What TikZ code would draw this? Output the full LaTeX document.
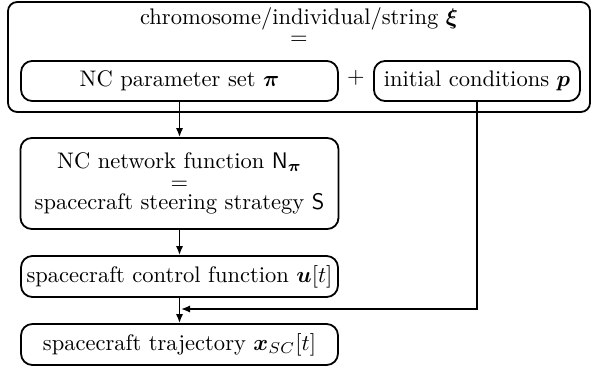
\documentclass[tikz,border=0pt]{standalone}
\usepackage{amsmath}
\usepackage{bm}
\usetikzlibrary{arrows.meta}

\tikzset{
  box/.style={draw, line width=0.8pt, rounded corners=5pt, inner sep=1pt,
    align=center, font=\fontsize{10}{9.2}\selectfont},
  frame/.style={draw, line width=0.8pt, rounded corners=4pt},
  link/.style={line width=0.7pt, -{Latex[length=4pt,width=3.2pt]}},
}

\begin{document}
\begin{tikzpicture}[x=0.444pt, y=-0.444pt]
  \useasboundingbox (0,0) rectangle (594,368);

  % outer chromosome frame with its heading
  \node[frame, minimum width=258.4pt, minimum height=48.8pt] (outer) at (299,57) {};
  \node[anchor=base] (title) at (299,25) {chromosome/individual/string $\bm{\xi}$};
  \node (eq) at (299,40) {$=$};

  % the two parts of the chromosome
  \node[box, minimum width=140.7pt, minimum height=17.8pt] (param) at (179.5,81)
    {NC parameter set $\bm{\pi}$};
  \node (plus) at (356,78) {$+$};
  \node[box, minimum width=91.5pt, minimum height=17.8pt] (init) at (477,81)
    {initial conditions $\bm{p}$};

  % processing chain
  \node[box, minimum width=141.2pt, minimum height=40.4pt] (net) at (179.5,183.5)
    {NC network function $\mathsf{N}_{\bm{\pi}}$\\ $=$\\ spacecraft steering strategy $\mathsf{S}$};
  \node[box, minimum width=140.7pt, minimum height=18.2pt] (ctrl) at (179.5,276.5)
    {spacecraft control function $\bm{u}[t]$};
  \node[box, minimum width=140.7pt, minimum height=18.2pt] (traj) at (179.5,344.5)
    {spacecraft trajectory $\bm{x}_{SC}[t]$};

  % junction where the initial conditions join the chain
  \coordinate (join) at (181,309);

  \draw[link] (param.south) -- (net.north);
  \draw[link] (net.south) -- (ctrl.north);
  \draw[link] (ctrl.south) -- (traj.north);
  \draw[link] (init.south) |- (join);
\end{tikzpicture}
\end{document}
